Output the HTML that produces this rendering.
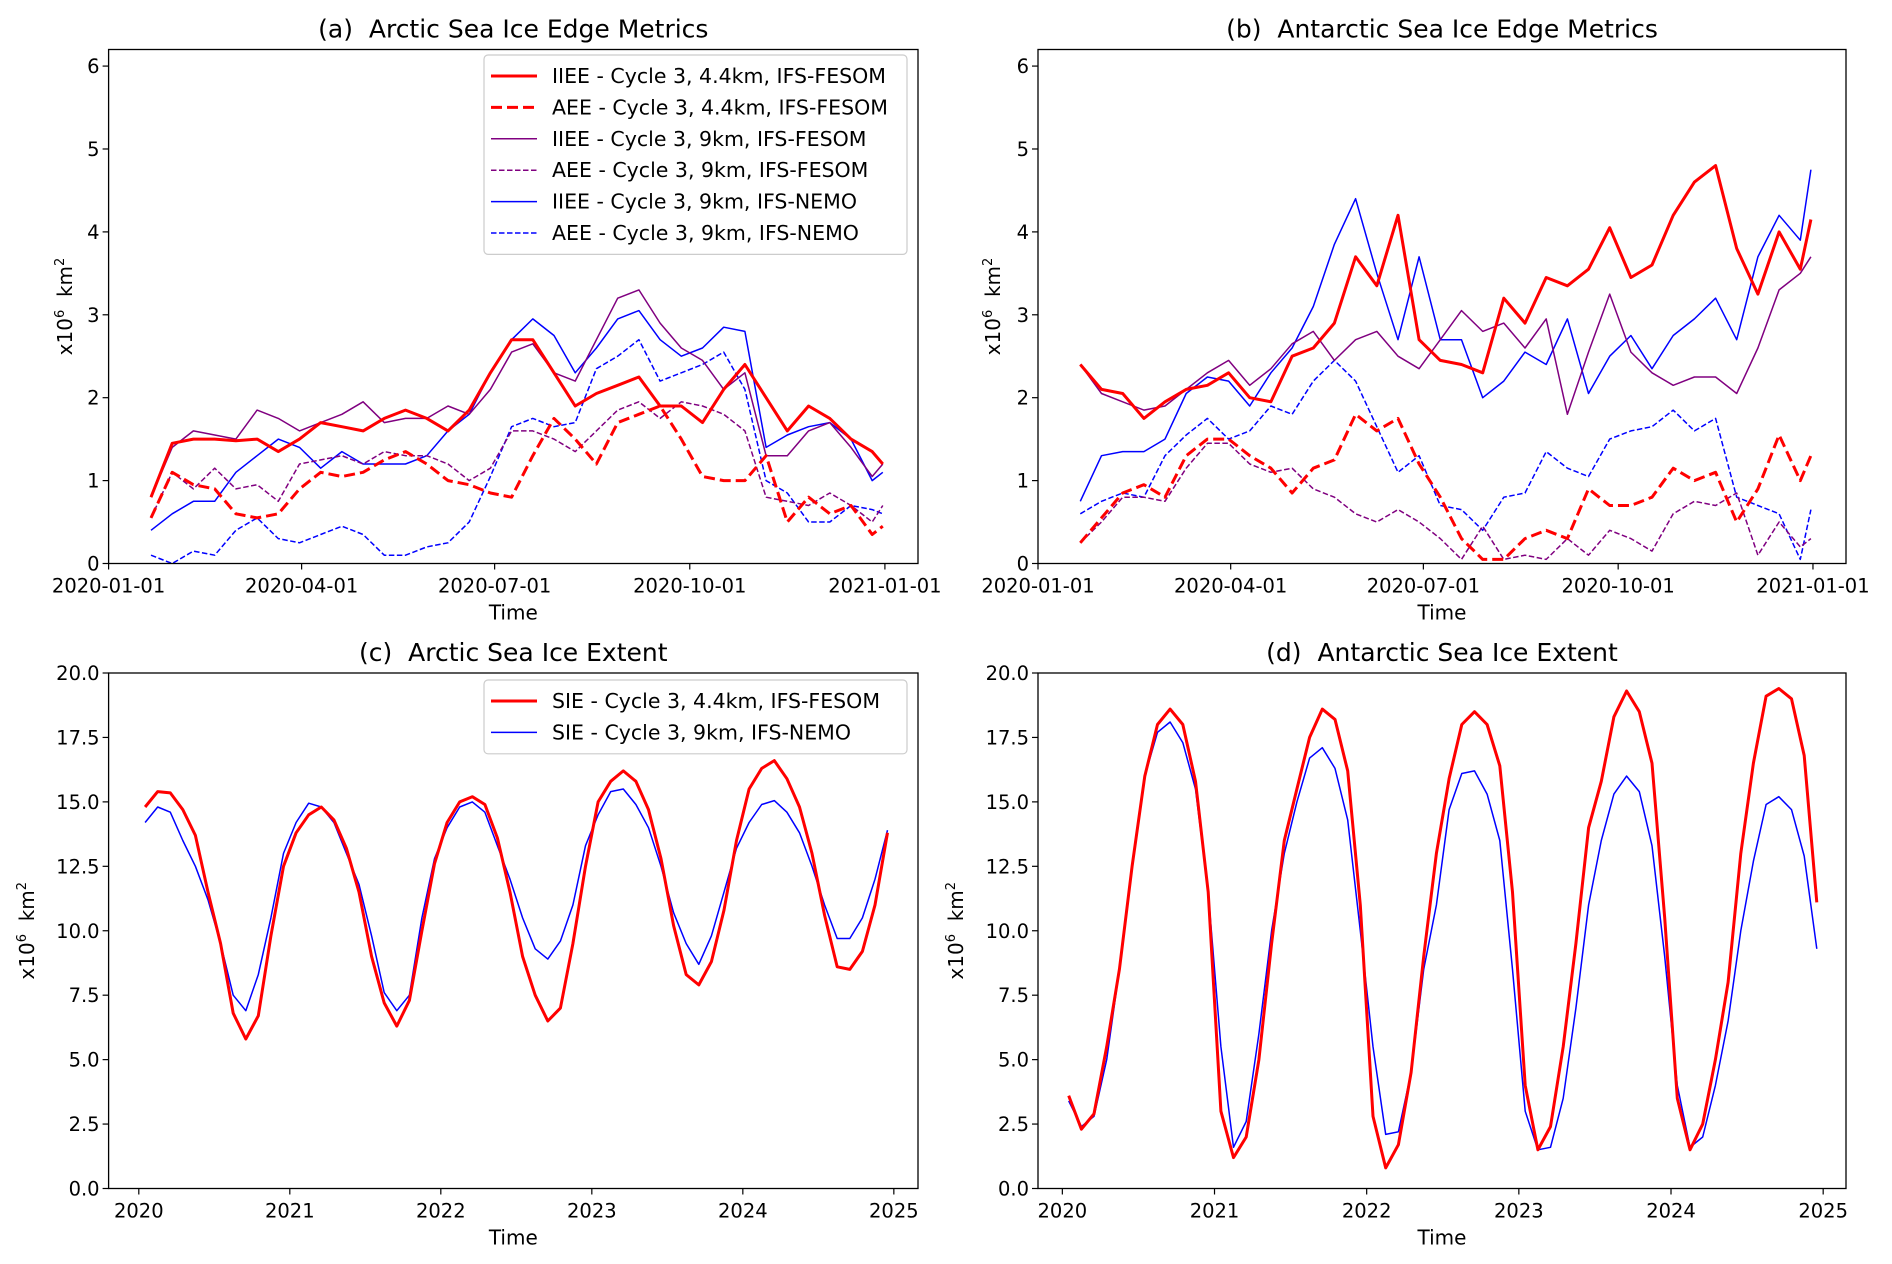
<!DOCTYPE html>
<html><head><meta charset="utf-8"><style>
html,body{margin:0;padding:0;background:#fff;}
svg{display:block;font-family:"DejaVu Sans","Liberation Sans",sans-serif;}
</style></head><body>
<svg id="fig" width="1892" height="1264" viewBox="0 0 1892 1264" xmlns="http://www.w3.org/2000/svg"></svg>
<script>
// ---------- Data ----------
const edgeDays=[20,30,40,50,60,70,80,90,100,110,120,130,140,150,160,170,180,190,200,210,220,230,240,250,260,270,280,290,300,310,320,330,340,350,360,365];
const arcIIEE44=[0.8,1.45,1.5,1.5,1.48,1.5,1.35,1.5,1.7,1.65,1.6,1.75,1.85,1.75,1.6,1.85,2.3,2.7,2.7,2.3,1.9,2.05,2.15,2.25,1.9,1.9,1.7,2.1,2.4,2.0,1.6,1.9,1.75,1.5,1.35,1.2];
const arcAEE44=[0.55,1.1,0.95,0.9,0.6,0.55,0.6,0.9,1.1,1.05,1.1,1.25,1.35,1.2,1.0,0.95,0.85,0.8,1.3,1.75,1.5,1.2,1.7,1.8,1.9,1.5,1.05,1.0,1.0,1.3,0.5,0.8,0.6,0.7,0.35,0.45];
const arcIIEE9F=[0.8,1.4,1.6,1.55,1.5,1.85,1.75,1.6,1.7,1.8,1.95,1.7,1.75,1.75,1.9,1.8,2.1,2.55,2.65,2.3,2.2,2.7,3.2,3.3,2.9,2.6,2.45,2.1,2.3,1.3,1.3,1.6,1.7,1.4,1.05,1.2];
const arcAEE9F=[0.55,1.1,0.9,1.15,0.9,0.95,0.75,1.2,1.25,1.3,1.2,1.35,1.3,1.3,1.2,1.0,1.15,1.6,1.6,1.5,1.35,1.6,1.85,1.95,1.75,1.95,1.9,1.8,1.6,0.8,0.75,0.7,0.85,0.7,0.5,0.7];
const arcIIEE9N=[0.4,0.6,0.75,0.75,1.1,1.3,1.5,1.4,1.15,1.35,1.2,1.2,1.2,1.3,1.6,1.8,2.3,2.7,2.95,2.75,2.3,2.6,2.95,3.05,2.7,2.5,2.6,2.85,2.8,1.4,1.55,1.65,1.7,1.5,1.0,1.1];
const arcAEE9N=[0.1,0.0,0.15,0.1,0.4,0.55,0.3,0.25,0.35,0.45,0.35,0.1,0.1,0.2,0.25,0.5,1.05,1.65,1.75,1.65,1.7,2.35,2.5,2.7,2.2,2.3,2.4,2.55,2.1,1.0,0.85,0.5,0.5,0.7,0.65,0.6];
const antIIEE44=[2.4,2.1,2.05,1.75,1.95,2.1,2.15,2.3,2.0,1.95,2.5,2.6,2.9,3.7,3.35,4.2,2.7,2.45,2.4,2.3,3.2,2.9,3.45,3.35,3.55,4.05,3.45,3.6,4.2,4.6,4.8,3.8,3.25,4.0,3.55,4.15];
const antAEE44=[0.25,0.55,0.85,0.95,0.8,1.3,1.5,1.5,1.3,1.15,0.85,1.15,1.25,1.8,1.6,1.75,1.2,0.8,0.3,0.05,0.05,0.3,0.4,0.3,0.9,0.7,0.7,0.8,1.15,1.0,1.1,0.5,0.9,1.55,1.0,1.3];
const antIIEE9F=[2.4,2.05,1.95,1.85,1.9,2.1,2.3,2.45,2.15,2.35,2.65,2.8,2.45,2.7,2.8,2.5,2.35,2.7,3.05,2.8,2.9,2.6,2.95,1.8,2.55,3.25,2.55,2.3,2.15,2.25,2.25,2.05,2.6,3.3,3.5,3.7];
const antAEE9F=[0.25,0.5,0.8,0.8,0.75,1.15,1.45,1.45,1.2,1.1,1.15,0.9,0.8,0.6,0.5,0.65,0.5,0.3,0.05,0.45,0.05,0.1,0.05,0.3,0.1,0.4,0.3,0.15,0.6,0.75,0.7,0.85,0.1,0.5,0.2,0.3];
const antIIEE9N=[0.75,1.3,1.35,1.35,1.5,2.05,2.25,2.2,1.9,2.3,2.6,3.1,3.85,4.4,3.5,2.7,3.7,2.7,2.7,2.0,2.2,2.55,2.4,2.95,2.05,2.5,2.75,2.35,2.75,2.95,3.2,2.7,3.7,4.2,3.9,4.75];
const antAEE9N=[0.6,0.75,0.85,0.8,1.3,1.55,1.75,1.5,1.6,1.9,1.8,2.2,2.45,2.2,1.65,1.1,1.3,0.7,0.65,0.4,0.8,0.85,1.35,1.15,1.05,1.5,1.6,1.65,1.85,1.6,1.75,0.8,0.7,0.6,0.05,0.65];
const edgeTickLabels=["2020-01-01","2020-04-01","2020-07-01","2020-10-01","2021-01-01"];
const edgeTickDays=[0,91,182,274,366];
const edgeYTicks=[0,1,2,3,4,5,6];
const arcSIE44=[14.8,15.4,15.35,14.7,13.7,11.5,9.5,6.8,5.8,6.7,9.8,12.5, 13.8,14.5,14.8,14.3,13.2,11.5,9.0,7.2,6.3,7.3,10.0,12.6, 14.2,15.0,15.2,14.9,13.6,11.5,9.0,7.5,6.5,7.0,9.5,12.5, 15.0,15.8,16.2,15.8,14.7,12.8,10.2,8.3,7.9,8.8,10.8,13.5, 15.5,16.3,16.6,15.9,14.8,13.0,10.6,8.6,8.5,9.2,11.0,13.8];
const arcSIE9N=[14.2,14.8,14.6,13.5,12.5,11.2,9.5,7.5,6.9,8.3,10.5,13.0, 14.2,14.95,14.8,14.2,13.0,11.8,9.8,7.6,6.9,7.5,10.5,12.8, 14.0,14.8,15.0,14.6,13.3,12.0,10.5,9.3,8.9,9.6,11.0,13.3, 14.5,15.4,15.5,14.9,14.0,12.5,10.7,9.5,8.7,9.8,11.5,13.2, 14.2,14.9,15.05,14.6,13.8,12.5,11.0,9.7,9.7,10.5,12.0,13.9];
const antSIE44=[3.6,2.3,2.9,5.5,8.5,12.5,16.0,18.0,18.6,18.0,15.8,11.5, 3.0,1.2,2.0,5.0,9.5,13.5,15.5,17.5,18.6,18.2,16.2,11.0, 2.8,0.8,1.7,4.5,9.0,13.0,15.9,18.0,18.5,18.0,16.4,11.5, 4.0,1.5,2.4,5.5,9.5,14.0,15.8,18.3,19.3,18.5,16.5,10.5, 3.5,1.5,2.5,5.0,8.0,13.0,16.5,19.1,19.4,19.0,16.8,11.1];
const antSIE9N=[3.4,2.4,2.8,5.0,8.5,12.5,16.0,17.7,18.1,17.3,15.5,11.5, 5.5,1.6,2.6,6.0,10.0,13.0,15.0,16.7,17.1,16.3,14.3,10.0, 5.5,2.1,2.2,4.5,8.5,11.0,14.7,16.1,16.2,15.3,13.5,8.5, 3.0,1.5,1.6,3.5,7.0,11.0,13.5,15.3,16.0,15.4,13.3,9.0, 4.0,1.6,2.0,4.0,6.5,10.0,12.7,14.9,15.2,14.7,12.9,9.3];
const sieYTicks=[0,2.5,5,7.5,10,12.5,15,17.5,20];
const sieXTicks=[2020,2021,2022,2023,2024,2025];

// ---------- Drawing ----------
const NS="http://www.w3.org/2000/svg";
const fig=document.getElementById('fig');
function mk(tag,attrs,parent){const e=document.createElementNS(NS,tag);for(const k in attrs)e.setAttribute(k,attrs[k]);(parent||fig).appendChild(e);return e;}
function txt(s,attrs,parent){const e=mk('text',attrs,parent);e.textContent=s;return e;}

function panel(cfg){
  const g=mk('g',{});
  
  
  const {L,R,T,B}=cfg;
  const xs=v=>L+(v-cfg.x0)/(cfg.x1-cfg.x0)*(R-L);
  const ys=v=>B-(v-cfg.y0)/(cfg.y1-cfg.y0)*(B-T);
  const t=txt(cfg.title,{x:(L+R)/2,y:T-12,'text-anchor':'middle','font-size':25,fill:'#000','xml:space':'preserve',style:'white-space:pre'},g);
  
  
  cfg.yticks.forEach(v=>{
    const y=ys(v);
    mk('line',{x1:L-6,x2:L,y1:y,y2:y,stroke:'#000','stroke-width':1.2},g);
    const l=txt(cfg.yfmt(v),{x:L-9,y:y+7,'text-anchor':'end','font-size':19.5,fill:'#000'},g);
    
    
  });
  cfg.xticks.forEach((v,i)=>{
    const x=xs(v);
    mk('line',{x1:x,x2:x,y1:B,y2:B+6,stroke:'#000','stroke-width':1.2},g);
    const l=txt(cfg.xlabels[i],{x:x,y:B+29,'text-anchor':'middle','font-size':19.5,fill:'#000'},g);
    
    
  });
  const xt=txt('Time',{x:(L+R)/2,y:B+56,'text-anchor':'middle','font-size':20,fill:'#000'},g);
  
  
  const yl=mk('text',{transform:`translate(${cfg.ylx},${(T+B)/2}) rotate(-90)`,'text-anchor':'middle','font-size':20,fill:'#000',style:'white-space:pre'},g);
  yl.innerHTML='x10<tspan dy="-8" font-size="13">6</tspan><tspan dy="8">  km</tspan><tspan dy="-8" font-size="13">2</tspan>';
  
  
  const cid='clip'+cfg.name;
  const cp=mk('clipPath',{id:cid},g);mk('rect',{x:L,y:T,width:R-L,height:B-T},cp);
  const sg=mk('g',{'clip-path':`url(#${cid})`},g);
  cfg.series.forEach(s=>{
    const d=s.vals.map((v,i)=>(i?'L':'M')+xs(s.xs[i]).toFixed(1)+','+ys(v).toFixed(1)).join('');
    const p=mk('path',{d:d,fill:'none',stroke:s.color,'stroke-width':s.w,'stroke-linejoin':'round'},sg);
    if(s.dash)p.setAttribute('stroke-dasharray',s.dash);
    
    
  });
  mk('rect',{x:L,y:T,width:R-L,height:B-T,fill:'none',stroke:'#000','stroke-width':1.3},g);
  if(cfg.legend){
    const lg=mk('g',{},g);
    
    
    const n=cfg.legend.length;
    mk('rect',{x:484,y:cfg.legY-21,width:423,height:n*31.4+11,rx:4,fill:'#fff','fill-opacity':0.85,stroke:'#ccc','stroke-width':1.2},lg);
    cfg.legend.forEach((s,i)=>{
      const y=cfg.legY+i*31.4;
      const ln=mk('line',{x1:491,x2:537,y1:y,y2:y,stroke:s.color,'stroke-width':s.w},lg);
      if(s.dash)ln.setAttribute('stroke-dasharray',s.dash);
      const e=txt(s.label,{x:552,y:y+7,'font-size':20.5,fill:'#000'},lg);
      
      
    });
  }
}
const RED='#ff0000',PUR='#800080',BLU='#0000ff';
const TD='11,5',DD='5.5,2.5';
function edgeSeries(a,b,c,d,e,f){return [
 {vals:e,xs:edgeDays,color:BLU,w:1.5,name:'iiee-9km-nemo',label:'IIEE - Cycle 3, 9km, IFS-NEMO'},
 {vals:f,xs:edgeDays,color:BLU,w:1.5,dash:DD,name:'aee-9km-nemo',label:'AEE - Cycle 3, 9km, IFS-NEMO'},
 {vals:c,xs:edgeDays,color:PUR,w:1.5,name:'iiee-9km-fesom',label:'IIEE - Cycle 3, 9km, IFS-FESOM'},
 {vals:d,xs:edgeDays,color:PUR,w:1.5,dash:DD,name:'aee-9km-fesom',label:'AEE - Cycle 3, 9km, IFS-FESOM'},
 {vals:a,xs:edgeDays,color:RED,w:3,name:'iiee-4km-fesom',label:'IIEE - Cycle 3, 4.4km, IFS-FESOM'},
 {vals:b,xs:edgeDays,color:RED,w:3,dash:TD,name:'aee-4km-fesom',label:'AEE - Cycle 3, 4.4km, IFS-FESOM'}];}
const arcS=edgeSeries(arcIIEE44,arcAEE44,arcIIEE9F,arcAEE9F,arcIIEE9N,arcAEE9N);
const antS=edgeSeries(antIIEE44,antAEE44,antIIEE9F,antAEE9F,antIIEE9N,antAEE9N);
const legOrder=s=>[s[4],s[5],s[2],s[3],s[0],s[1]];
const monthX=arcSIE44.map((_,i)=>2020+(i+0.5)/12);
function sieSeries(r,b){return [
 {vals:b,xs:monthX,color:BLU,w:1.5,name:'sie-9km-nemo',label:'SIE - Cycle 3, 9km, IFS-NEMO'},
 {vals:r,xs:monthX,color:RED,w:3,name:'sie-4km-fesom',label:'SIE - Cycle 3, 4.4km, IFS-FESOM'}];}
const fmt1=v=>String(v), fmt2=v=>v.toFixed(1);
const aS=sieSeries(arcSIE44,arcSIE9N), dS=sieSeries(antSIE44,antSIE9N);
panel({name:'panel-a',title:'(a)  Arctic Sea Ice Edge Metrics',L:108.6,R:918,T:49.5,B:563.5,x0:0,x1:381.6,y0:0,y1:6.2,yticks:edgeYTicks,yfmt:fmt1,xticks:edgeTickDays,xlabels:edgeTickLabels,ylx:72,series:arcS,legend:legOrder(arcS),legY:76});
panel({name:'panel-b',title:'(b)  Antarctic Sea Ice Edge Metrics',L:1038,R:1846,T:49.5,B:563.5,x0:0,x1:381.6,y0:0,y1:6.2,yticks:edgeYTicks,yfmt:fmt1,xticks:edgeTickDays,xlabels:edgeTickLabels,ylx:1000,series:antS});
panel({name:'panel-c',title:'(c)  Arctic Sea Ice Extent',L:108.6,R:918,T:673,B:1188.5,x0:2019.8,x1:2025.16,y0:0,y1:20,yticks:sieYTicks,yfmt:fmt2,xticks:sieXTicks,xlabels:sieXTicks.map(String),ylx:34,series:aS,legend:[aS[1],aS[0]],legY:701});
panel({name:'panel-d',title:'(d)  Antarctic Sea Ice Extent',L:1038,R:1846,T:673,B:1188.5,x0:2019.84,x1:2025.15,y0:0,y1:20,yticks:sieYTicks,yfmt:fmt2,xticks:sieXTicks,xlabels:sieXTicks.map(String),ylx:963,series:dS});
</script>
</body></html>
